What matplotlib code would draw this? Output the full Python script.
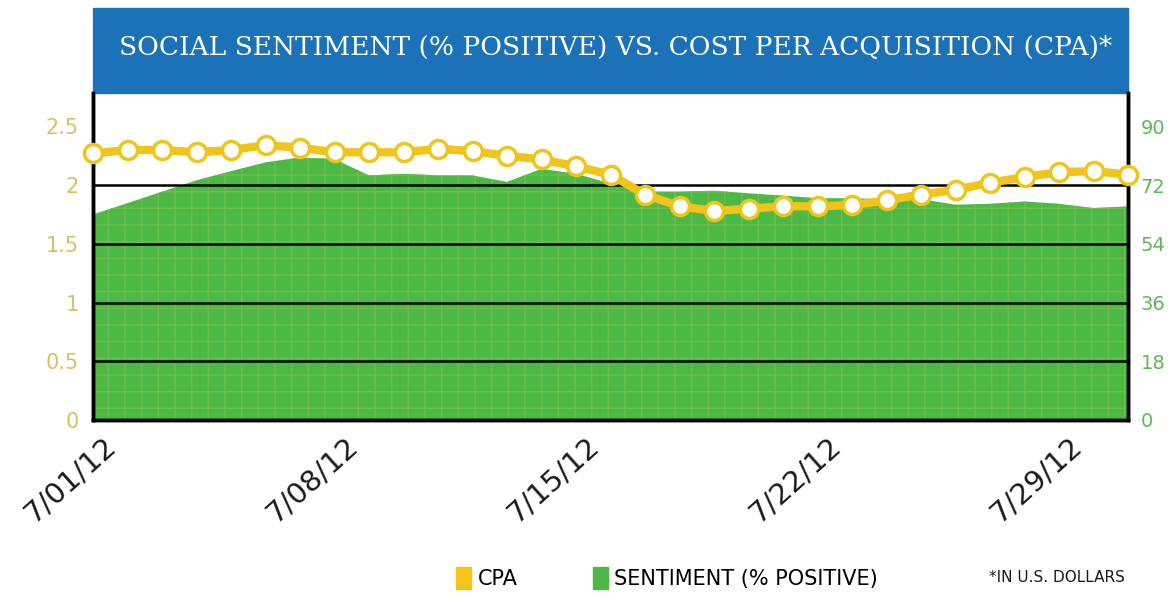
import matplotlib.pyplot as plt
from matplotlib.patches import Rectangle, Patch
from matplotlib.transforms import ScaledTranslation
import numpy as np

# days of July 2012
days = list(range(1, 32))

# cost per acquisition, USD (left axis)
cpa = [2.27, 2.30, 2.30, 2.28, 2.30, 2.34, 2.32, 2.28, 2.28, 2.28,
       2.31, 2.29, 2.25, 2.22, 2.16, 2.09, 1.92, 1.82, 1.78, 1.80,
       1.82, 1.82, 1.83, 1.87, 1.92, 1.96, 2.02, 2.07, 2.11, 2.12, 2.09]

# social sentiment, % positive (right axis)
sentiment = [63.0, 66.5, 70.0, 73.5, 76.3, 79.0, 80.5, 80.0, 75.0, 75.5,
             75.0, 75.0, 73.0, 77.0, 75.5, 72.5, 70.0, 70.0, 70.3, 69.5,
             68.8, 68.0, 68.0, 67.7, 67.7, 66.0, 66.3, 67.0, 66.3, 65.0, 65.5]

tick_days = [1, 8, 15, 22, 29]
tick_labels = ["7/01/12", "7/08/12", "7/15/12", "7/22/12", "7/29/12"]
left_ticks = [0, 0.5, 1, 1.5, 2, 2.5]
left_labels = ["0", "0.5", "1", "1.5", "2", "2.5"]
right_ticks = [0, 18, 36, 54, 72, 90]

yellow = "#f0c419"
green = "#4cb846"
blue = "#1b72b8"

fig = plt.figure(figsize=(11.7, 5.99), dpi=100)
ax = fig.add_axes([93 / 1170, 1 - 420 / 599, 1035 / 1170, 327 / 599])
ax2 = ax.twinx()

# sentiment area sits behind the CPA line
ax.set_zorder(ax2.get_zorder() + 1)
ax.patch.set_visible(False)

ymax = 2.785
ax.set_ylim(0, ymax)
ax2.set_ylim(0, ymax * 36)
ax.set_xlim(1, 31)

plt.rcParams["hatch.linewidth"] = 1.0
ax2.fill_between(days, sentiment, 0, facecolor=green, edgecolor="#6fbe4b",
                 hatch="+", lw=0, zorder=1)
for y in [18, 36, 54, 72]:
    ax2.axhline(y, color="black", lw=1.8, zorder=2)

ax.plot(days, cpa, color=yellow, lw=6, marker="o", markersize=13,
        markerfacecolor="white", markeredgecolor=yellow, markeredgewidth=2.5,
        clip_on=False, zorder=5)

# axes styling
for a in (ax, ax2):
    a.spines["top"].set_visible(False)
    for s in ("left", "right", "bottom"):
        a.spines[s].set_linewidth(2.5)
        a.spines[s].set_color("black")

ax.set_yticks(left_ticks)
ax.set_yticklabels(left_labels, color="#d8c062", fontsize=15)
ax.tick_params(axis="y", length=0, pad=10)
ax2.set_yticks(right_ticks)
ax2.set_yticklabels([str(t) for t in right_ticks], color="#5db955", fontsize=14)
ax2.tick_params(axis="y", length=0, pad=9)

ax.set_xticks(tick_days)
ax.set_xticklabels(tick_labels, rotation=42, ha="right", va="top",
                   rotation_mode="anchor", fontsize=21, color="#1a1a1a")
ax.tick_params(axis="x", length=0, pad=8)
shift = ScaledTranslation(10 / 100, 0, fig.dpi_scale_trans)
for lbl in ax.get_xticklabels():
    lbl.set_transform(lbl.get_transform() + shift)

# title banner
fig.patches.append(Rectangle((93 / 1170, 1 - 93 / 599), 1035 / 1170, 85 / 599,
                             transform=fig.transFigure, color=blue, zorder=0))
fig.text(616 / 1170, 1 - 47 / 599,
         "SOCIAL SENTIMENT (% POSITIVE) VS. COST PER ACQUISITION (CPA)*",
         color="white", fontsize=19, family="DejaVu Serif",
         ha="center", va="center")

# legend and footnote
handles = [Patch(color=yellow, label="CPA"),
           Patch(color=green, label="SENTIMENT (% POSITIVE)")]
fig.legend(handles=handles, loc="center", bbox_to_anchor=(667 / 1170, 1 - 578 / 599),
           ncol=2, frameon=False, handlelength=0.75, handleheight=1.3,
           handletextpad=0.3, columnspacing=3.6, prop={"size": 15})
fig.text(1125 / 1170, 1 - 578 / 599, "*IN U.S. DOLLARS", ha="right", va="center",
         fontsize=11, color="#1a1a1a")

fig.savefig("out.png", dpi=100)
